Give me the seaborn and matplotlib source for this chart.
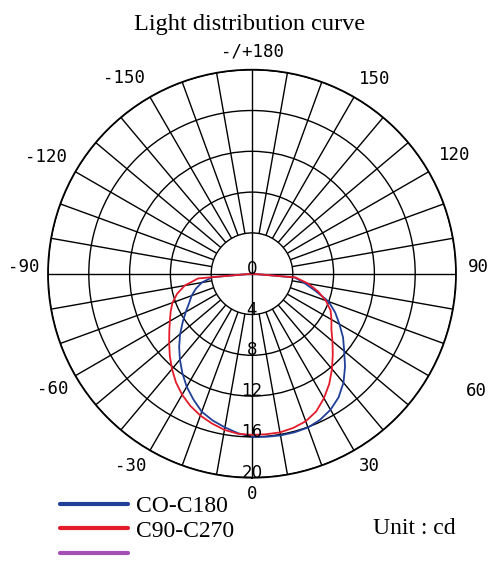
import numpy as np
import pandas as pd
import matplotlib.pyplot as plt
import seaborn as sns
from matplotlib.lines import Line2D
from matplotlib.transforms import offset_copy

# angle (deg, 0 = straight down, positive = right) and intensity (cd)
angles = list(range(-90, 95, 5))
c0_c180 = [0, 3.9, 5.0, 5.7, 6.3, 6.8, 7.5, 8.3, 9.2, 10.1, 11.0, 11.9, 12.8,
           13.6, 14.4, 14.9, 15.3, 15.7, 16.0,
           16.05, 16.1, 16.1, 16.05, 15.8, 15.4, 14.8, 13.95, 12.9, 11.8,
           10.9, 9.9, 9.0, 8.0, 6.4, 5.2, 4.2, 0]
c90_c270 = [0, 5.3, 6.7, 7.6, 8.3, 8.8, 9.3, 9.9, 10.6, 11.4, 12.2, 13.0, 13.7,
            14.3, 14.8, 15.2, 15.55, 15.75, 15.8,
            15.8, 15.8, 15.65, 15.4, 14.9, 14.1, 13.2, 12.2, 11.2, 10.3,
            9.5, 9.0, 8.5, 7.7, 6.7, 5.6, 4.3, 0]

series_names = ["CO-C180", "C90-C270", " "]
series_colors = ["#1f3f99", "#e31b2b", "#a34fb3"]

tick_labels = ["0", "30", "60", "90", "120", "150", "-/+180",
               "-150", "-120", "-90", "-60", "-30"]
label_angles = [0, 31.5, 62.5, 91.6, 120.3, 147.7, 180,
                -146.9, -119.5, -91.6, -59.9, -32.2]
label_r = [21.6, 22.1, 24.8, 22.2, 23.0, 22.6, 21.8,
           22.9, 23.2, 22.35, 22.6, 22.3]
radial_ticks = [0, 4, 8, 12, 16, 20]

sns.set_theme(style="white")
plt.rcParams["font.family"] = ["Liberation Serif", "DejaVu Serif"]
plt.rcParams["text.color"] = "black"

df = pd.DataFrame({
    "theta": np.deg2rad(angles * 2),
    "r": c0_c180 + c90_c270,
    "series": [series_names[0]] * len(angles) + [series_names[1]] * len(angles),
})

fig = plt.figure(figsize=(5, 5.71), dpi=100)
ax = fig.add_axes([0.096, 0.1634, 0.816, 0.7145], projection="polar")
ax.set_theta_zero_location("S")
ax.set_theta_direction(1)

# grid: rings every 4 cd, spokes every 10 deg (full through centre on the axes)
ax.set_ylim(0, 20)
ax.set_yticks(radial_ticks[1:])
ax.set_yticklabels([])
ax.set_xticks([])
ax.yaxis.grid(True, color="black", lw=1.0)
ax.spines["polar"].set_color("black")
ax.spines["polar"].set_linewidth(1.3)
spokes = np.arange(0, 360, 10)
ax.vlines(np.deg2rad(spokes), [0 if s % 90 == 0 else 4 for s in spokes], 20,
          color="black", lw=1.0)

sns.lineplot(data=df, x="theta", y="r", hue="series",
             palette=series_colors[:2], ax=ax, legend=False, lw=1.3)
ax.set_xlabel("")
ax.set_ylabel("")

# radial labels along the 0 deg line
lift = offset_copy(ax.transData, fig=fig, y=5, units="dots")
for v in radial_ticks:
    ax.text(0, v, str(v), transform=lift, ha="center", va="center",
            fontsize=12, family="DejaVu Sans", clip_on=False)

# angle labels around the outside
for a, rr, lab in zip(label_angles, label_r, tick_labels):
    ax.text(np.deg2rad(a), rr, lab, ha="center", va="center",
            fontsize=12.5, family="DejaVu Sans Mono", clip_on=False)

fig.text(0.5, 1 - 30 / 571, "Light distribution curve", ha="center",
         va="baseline", fontsize=17.5)

handles = [Line2D([], [], color=c, lw=3) for c in series_colors]
fig.legend(handles, series_names, loc="upper left", bbox_to_anchor=(0.12, 0.132),
           frameon=False, fontsize=17, handlelength=2.9, handletextpad=0.3,
           labelspacing=0.13, borderpad=0, borderaxespad=0)

fig.text(373 / 500, 1 - 528 / 571, "Unit : cd", va="center", fontsize=17)

fig.savefig("out.png", dpi=100)
